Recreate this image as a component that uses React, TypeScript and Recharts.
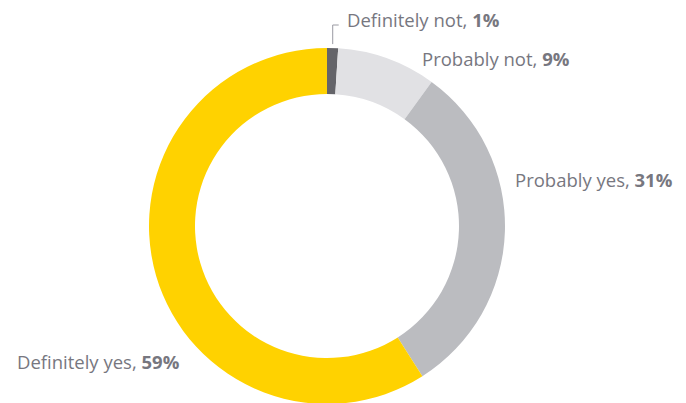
import {Cell, Pie, PieChart} from "recharts";

const categories = ["Definitely not", "Probably not", "Probably yes", "Definitely yes"];
const shares = [1, 9, 31, 59];
const colors = ["#646469", "#e1e1e4", "#bbbcc0", "#ffd200"];

const data = categories.map((name, i) => ({name, value: shares[i]}));

// label anchor relative to the donut centre
const labelOffsets = [
    {dx: 20, dy: -205},
    {dx: 95, dy: -166},
    {dx: 188, dy: -45},
    {dx: -310, dy: 137},
];

const textColor = "#77777f";

const renderLabel = (props: any) => {
    const {cx, cy, index, outerRadius, midAngle} = props;
    const off = labelOffsets[index];
    const x = cx + off.dx;
    const y = cy + off.dy;
    const entry = data[index];
    let leader = null;
    if (index === 0) {
        const rad = (midAngle * Math.PI) / 180;
        const px = cx + (outerRadius + 4) * Math.cos(rad);
        const py = cy - (outerRadius + 4) * Math.sin(rad);
        leader = (
            <polyline
                points={`${px},${py} ${px},${y + 4} ${px + 6},${y + 4}`}
                fill="none" stroke="#9a9aa2" strokeWidth={1}
            />
        );
    }
    return (
        <g key={`lbl-${index}`}>
            {leader}
            <text x={x} y={y} dy="0.35em" fill={textColor} fontSize={18.5}
                  fontFamily="'Open Sans', sans-serif" textAnchor="start">
                <tspan>{entry.name}, </tspan>
                <tspan fontWeight="bold">{entry.value}%</tspan>
            </text>
        </g>
    );
};

export default function App() {
    return (
        <div style={{position: "absolute", left: 0, top: 0, background: "#fff"}}>
            <PieChart width={686} height={403}>
                <Pie
                    data={data}
                    dataKey="value"
                    cx={322} cy={221}
                    innerRadius={132} outerRadius={178}
                    startAngle={90} endAngle={-270}
                    stroke="none"
                    label={renderLabel}
                    labelLine={false}
                    isAnimationActive={false}
                >
                    {data.map((entry, index) => (
                        <Cell key={`cell-${index}`} fill={colors[index]}/>
                    ))}
                </Pie>
            </PieChart>
        </div>
    );
}
